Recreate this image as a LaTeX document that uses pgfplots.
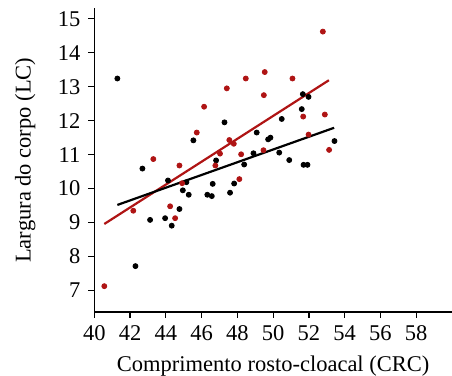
\documentclass[border=0pt]{standalone}
\usepackage{fontspec}
\setmainfont{Liberation Serif}
\usepackage{pgfplots}
\pgfplotsset{compat=1.18}
\definecolor{dred}{RGB}{175,20,20}
\begin{document}
\fontsize{11.25}{13}\selectfont
\begin{tikzpicture}
\useasboundingbox (0,0) rectangle (226pt,188pt);
\begin{axis}[
  at={(47.15pt,32pt)}, anchor=south west,
  scale only axis, width=178.85pt, height=151.75pt,
  xmin=40, xmax=60, ymin=6.37, ymax=15.3,
  axis lines=left, axis line style={-, line width=0.6pt},
  xtick={40,42,...,58}, ytick={7,8,...,15},
  tick align=outside, major tick length=3pt,
  tick style={line width=0.6pt, black},
  /pgf/number format/assume math mode=true,
  tick label style={font=\fontsize{11.25}{13}\selectfont},
  label style={font=\fontsize{11.25}{13}\selectfont},
  xlabel={Comprimento rosto-cloacal (CRC)},
  ylabel={Largura do corpo (LC)},
  xlabel style={at={(axis description cs:0.5,0)}, anchor=center, yshift=-27pt},
  ylabel style={at={(axis description cs:-0.193,0.5)}, anchor=center, rotate=0},
  clip=false,
]
\addplot[only marks, mark=*, mark size=1.25pt, black] coordinates {
(41.29,13.24) (42.69,10.59) (45.54,11.42) (47.28,11.95) (49.08,11.65)
(49.72,11.45) (49.85,11.50) (50.48,12.05) (48.90,11.04) (50.34,11.06)
(50.90,10.84) (48.38,10.71) (46.81,10.83) (51.66,12.78) (51.98,12.70)
(51.60,12.34) (53.43,11.40) (51.70,10.70) (51.92,10.70) (43.12,9.08)
(43.96,9.13) (44.33,8.91) (44.76,9.40) (44.12,10.24) (45.15,10.19)
(44.95,9.95) (45.28,9.82) (46.32,9.82) (46.57,9.78) (46.62,10.14)
(47.59,9.88) (47.82,10.15) (42.30,7.72)
};
\addplot[only marks, mark=*, mark size=1.25pt, dred] coordinates {
(43.30,10.87) (44.76,10.68) (46.14,12.41) (45.73,11.65) (47.41,12.95)
(48.47,13.24) (49.53,13.43) (49.48,12.75) (47.55,11.43) (47.03,11.03)
(48.21,11.01) (49.46,11.13) (46.77,10.68) (52.78,14.62) (51.08,13.24)
(51.68,12.12) (52.89,12.18) (51.98,11.59) (53.13,11.14) (42.18,9.35)
(44.52,9.13) (44.24,9.48) (44.91,10.16) (48.11,10.28) (40.56,7.13)
(47.80,11.32)
};
\addplot[dred, line width=1.1pt, no marks] coordinates {(40.56,8.96) (53.12,13.19)};
\addplot[black, line width=1.1pt, no marks] coordinates {(41.29,9.52) (53.41,11.79)};
\end{axis}
\end{tikzpicture}
\end{document}
